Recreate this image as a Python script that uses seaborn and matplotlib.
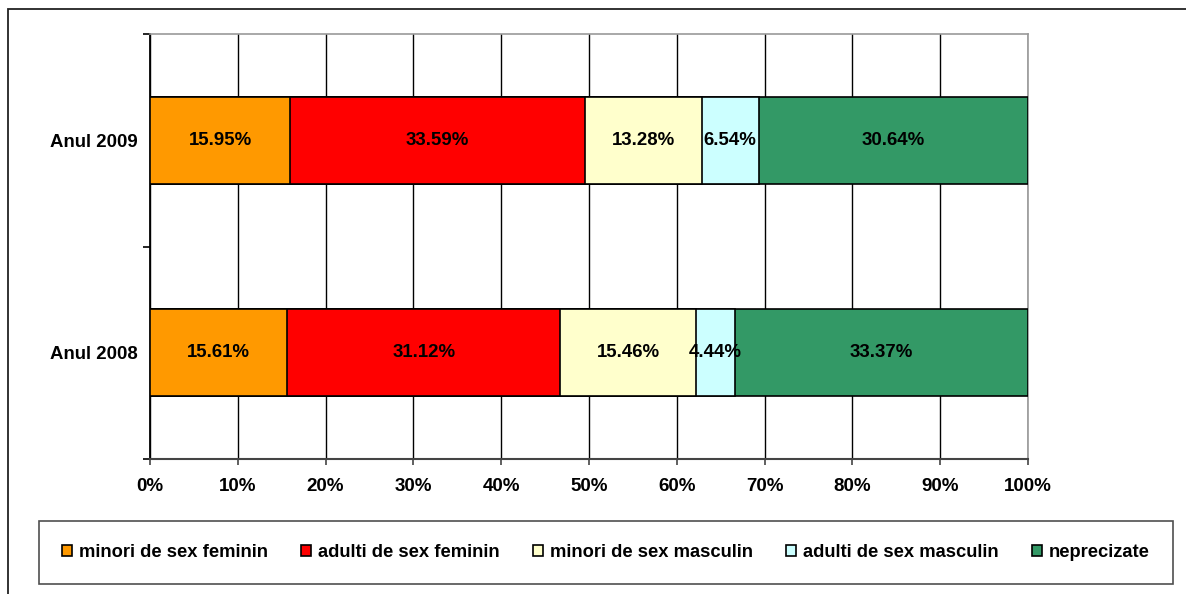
import numpy as np
import pandas as pd
import matplotlib
matplotlib.use("Agg")
import matplotlib.pyplot as plt
import seaborn as sns
from matplotlib.patches import Patch, Rectangle

# ==========================
# DATA
# ==========================

years = ["Anul 2009", "Anul 2008"]
categories = ["minori de sex feminin", "adulti de sex feminin",
              "minori de sex masculin", "adulti de sex masculin",
              "neprecizate"]
colors = ["#FF9900", "#FF0000", "#FFFFCC", "#CCFFFF", "#339966"]

values_2009 = [15.95, 33.59, 13.28, 6.54, 30.64]
values_2008 = [15.61, 31.12, 15.46, 4.44, 33.37]

xticks = [0, 10, 20, 30, 40, 50, 60, 70, 80, 90, 100]

# ==========================
# TABLE
# ==========================

df = pd.DataFrame([values_2009, values_2008], index=years, columns=categories)
cum = df.cumsum(axis=1)

sns.set_style("white")
plt.rcParams["font.family"] = ["Liberation Sans", "DejaVu Sans"]
plt.rcParams["font.weight"] = "bold"
for key in ["text.color", "axes.labelcolor", "xtick.color", "ytick.color"]:
    plt.rcParams[key] = "black"

fig = plt.figure(figsize=(11.86, 5.94), dpi=100)
ax = fig.add_axes([150 / 1186, 1 - 459 / 594, 878 / 1186, 425 / 594])

# outer frame
fig.add_artist(Rectangle((8 / 1186, -0.2), 1.2, 1.2 - 9 / 594,
                         transform=fig.transFigure, fill=False,
                         edgecolor="#222222", linewidth=1.3, clip_on=False))

# stacked bars: draw cumulative totals, widest first
for cat, col in reversed(list(zip(categories, colors))):
    sns.barplot(
        x=cum[cat].values,
        y=years,
        orient="h",
        color=col,
        width=0.41,
        edgecolor="black",
        linewidth=1.2,
        saturation=1,
        ax=ax,
        zorder=3,
    )

# value labels in segment centres
for i, yr in enumerate(years):
    for cat in categories:
        v = df.loc[yr, cat]
        ax.text(cum.loc[yr, cat] - v / 2, i, f"{v:.2f}%",
                ha="center", va="center", fontsize=13.4,
                fontweight="bold", color="black", zorder=5)

ax.set_xlim(0, 100)
ax.set_ylim(1.5, -0.5)
ax.set_xticks(xticks)
ax.set_xticklabels([f"{t}%" for t in xticks])
ax.set_axisbelow(True)
ax.grid(axis="x", color="black", linewidth=1)
ax.grid(axis="y", visible=False)

ax.set_yticks([-0.5, 0.5, 1.5], minor=True)
ax.tick_params(axis="y", which="major", length=0, pad=9, labelsize=13.4)
ax.tick_params(axis="y", which="minor", length=5, width=1.2,
               color="black", direction="out", left=True)
ax.tick_params(axis="x", length=4, width=1.2, direction="out",
               bottom=True, pad=10, labelsize=13.5, color="#444444")
for lbl in ax.get_xticklabels() + ax.get_yticklabels():
    lbl.set_fontweight("bold")

ax.set_xlabel("")
ax.set_ylabel("")

for side in ["top", "right"]:
    ax.spines[side].set_visible(True)
    ax.spines[side].set_color("#999999")
    ax.spines[side].set_linewidth(1.2)
ax.spines["left"].set_color("black")
ax.spines["left"].set_linewidth(1.3)
ax.spines["bottom"].set_color("#444444")
ax.spines["bottom"].set_linewidth(1.5)

# ==========================
# LEGEND
# ==========================

handles = [Patch(facecolor=c, edgecolor="black", linewidth=1.2) for c in colors]
leg = fig.legend(
    handles, categories,
    loc="lower left",
    bbox_to_anchor=(39 / 1186, 1 - 584 / 594, 1134 / 1186, 63 / 594),
    bbox_transform=fig.transFigure,
    mode="expand",
    ncol=5,
    frameon=True,
    fancybox=False,
    borderaxespad=0,
    handlelength=0.55,
    handleheight=0.55,
    handletextpad=0.4,
    borderpad=1.25,
    prop={"size": 13.2, "weight": "bold"},
)
leg.get_frame().set_edgecolor("#222222")
leg.get_frame().set_linewidth(1.2)

plt.savefig("out.png", dpi=100)
plt.close()
